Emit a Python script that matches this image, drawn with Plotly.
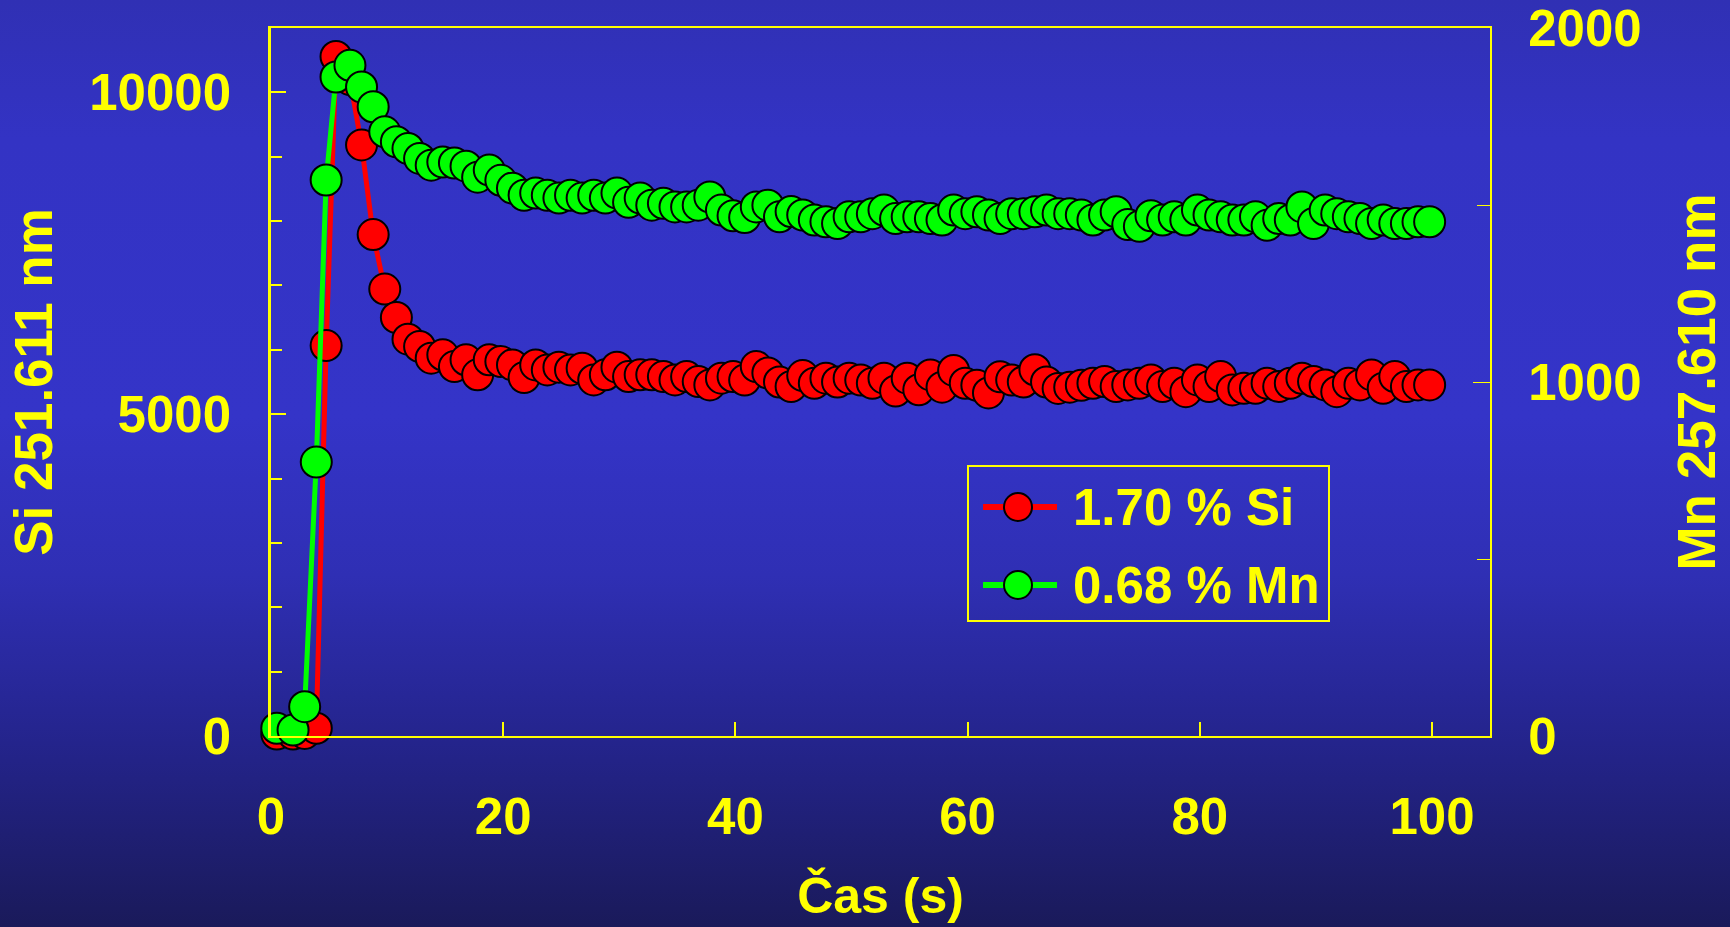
import base64
import plotly.graph_objects as go

# ---------------- data ----------------
time_s = [0.5, 1.9, 2.9, 3.9, 4.75, 5.6, 6.8, 7.8, 8.8, 9.8,
          10.8, 11.8, 12.8, 13.8, 14.8, 15.8, 16.8, 17.8, 18.8, 19.8,
          20.8, 21.8, 22.8, 23.8, 24.8, 25.8, 26.8, 27.8, 28.8, 29.8,
          30.8, 31.8, 32.8, 33.8, 34.8, 35.8, 36.8, 37.8, 38.8, 39.8,
          40.8, 41.8, 42.8, 43.8, 44.8, 45.8, 46.8, 47.8, 48.8, 49.8,
          50.8, 51.8, 52.8, 53.8, 54.8, 55.8, 56.8, 57.8, 58.8, 59.8,
          60.8, 61.8, 62.8, 63.8, 64.8, 65.8, 66.8, 67.8, 68.8, 69.8,
          70.8, 71.8, 72.8, 73.8, 74.8, 75.8, 76.8, 77.8, 78.8, 79.8,
          80.8, 81.8, 82.8, 83.8, 84.8, 85.8, 86.8, 87.8, 88.8, 89.8,
          90.8, 91.8, 92.8, 93.8, 94.8, 95.8, 96.8, 97.8, 98.8, 99.8]

si_intensity = [30, 30, 40, 120, 6066, 10557, 10200, 9184, 7790, 6943,
                6502, 6166, 6051, 5870, 5922, 5740, 5844, 5611, 5844, 5818,
                5766, 5569, 5766, 5688, 5730, 5688, 5714, 5533, 5611, 5730,
                5584, 5611, 5611, 5584, 5533, 5584, 5507, 5455, 5559, 5584,
                5530, 5740, 5640, 5500, 5430, 5600, 5480, 5560, 5500, 5560,
                5530, 5480, 5560, 5360, 5560, 5380, 5610, 5420, 5680, 5480,
                5450, 5330, 5580, 5530, 5500, 5690, 5500, 5400, 5420, 5450,
                5481, 5506, 5430, 5455, 5481, 5533, 5430, 5481, 5350, 5533,
                5430, 5584, 5377, 5403, 5403, 5481, 5429, 5481, 5558, 5506,
                5455, 5350, 5481, 5455, 5610, 5403, 5584, 5429, 5455, 5455]

mn_intensity = [22, 17, 83, 774, 1571, 1862, 1895, 1834, 1778, 1707,
                1679, 1660, 1632, 1613, 1622, 1619, 1610, 1579, 1599, 1570,
                1548, 1528, 1534, 1528, 1520, 1528, 1520, 1528, 1520, 1534,
                1508, 1520, 1500, 1505, 1495, 1495, 1500, 1523, 1486, 1470,
                1465, 1495, 1500, 1467, 1482, 1472, 1458, 1453, 1448, 1467,
                1467, 1476, 1486, 1462, 1467, 1467, 1462, 1458, 1486, 1476,
                1481, 1472, 1462, 1476, 1476, 1481, 1486, 1476, 1476, 1472,
                1458, 1472, 1481, 1445, 1440, 1470, 1458, 1467, 1458, 1486,
                1472, 1467, 1458, 1458, 1467, 1443, 1462, 1458, 1495, 1448,
                1486, 1476, 1467, 1462, 1448, 1458, 1448, 1448, 1453, 1453]

series_names = ["1.70 % Si", "0.68 % Mn"]
series_colors = ["#FF0000", "#00FF00"]
x_title = "Čas (s)"
y_title = "Si 251.611 nm"
y2_title = "Mn 257.610 nm"

# ---------------- layout geometry ----------------
W, H = 1730, 927
ML, MR, MT, MB = 271, 240, 28, 191
PW, PH = W - ML - MR, H - MT - MB
YEL = "#FFFF00"
FONT = "Liberation Sans, Arial, sans-serif"


def px_x(p):
    return (p - ML) / PW


def px_y(p):
    return (H - MB - p) / PH


# gradient background as an SVG image
svg = (
    "<svg xmlns='http://www.w3.org/2000/svg' width='1730' height='927' preserveAspectRatio='none'>"
    "<defs><linearGradient id='g' x1='0' y1='0' x2='0' y2='1'>"
    "<stop offset='0' stop-color='#3030b4'/>"
    "<stop offset='0.15' stop-color='#3333c4'/>"
    "<stop offset='0.45' stop-color='#3434c8'/>"
    "<stop offset='0.62' stop-color='#2f2fb4'/>"
    "<stop offset='0.80' stop-color='#24248c'/>"
    "<stop offset='1' stop-color='#1a1a5a'/>"
    "</linearGradient></defs>"
    "<rect x='0' y='0' width='1730' height='927' fill='url(#g)'/></svg>"
)
bg_src = "data:image/svg+xml;base64," + base64.b64encode(svg.encode()).decode()

fig = go.Figure()
fig.add_trace(go.Scatter(
    x=time_s, y=si_intensity, name=series_names[0], mode="lines+markers",
    line=dict(color=series_colors[0], width=5),
    marker=dict(size=31, color=series_colors[0], line=dict(color="black", width=2)),
    cliponaxis=False, showlegend=False, yaxis="y"))
fig.add_trace(go.Scatter(
    x=time_s, y=mn_intensity, name=series_names[1], mode="lines+markers",
    line=dict(color=series_colors[1], width=5),
    marker=dict(size=31, color=series_colors[1], line=dict(color="black", width=2)),
    cliponaxis=False, showlegend=False, yaxis="y2"))

tickfont = dict(family=FONT, size=51, color=YEL, weight="bold")
titlefont = dict(family=FONT, size=53, color=YEL, weight="bold")

fig.update_layout(
    width=W, height=H,
    margin=dict(l=ML, r=MR, t=MT, b=MB, autoexpand=False),
    paper_bgcolor="#2a2aa0", plot_bgcolor="rgba(0,0,0,0)",
    showlegend=False,
    images=[dict(source=bg_src, xref="paper", yref="paper",
                 x=px_x(0), y=px_y(0), sizex=W / PW, sizey=H / PH,
                 xanchor="left", yanchor="top", sizing="stretch", layer="below")],
    xaxis=dict(range=[0, 105], tick0=0, dtick=20, showgrid=False, zeroline=False,
               showline=True, linecolor=YEL, linewidth=2, mirror=True,
               ticks="inside", ticklen=14, tickwidth=1.5, tickcolor=YEL,
               tickfont=tickfont, ticklabelstandoff=35,
               title=dict(text=x_title, font=dict(family=FONT, size=50, color=YEL, weight="bold"),
                          standoff=34)),
    yaxis=dict(range=[0, 11000], tick0=0, dtick=5000, tickformat="d",
               showgrid=False, zeroline=False,
               showline=True, linecolor=YEL, linewidth=2.5,
               ticks="inside", ticklen=15, tickwidth=1.5, tickcolor=YEL,
               minor=dict(dtick=1000, ticks="inside", ticklen=11, tickwidth=1.5,
                          tickcolor=YEL, showgrid=False),
               tickfont=tickfont, ticklabelstandoff=27,
               title=dict(text=y_title, font=titlefont, standoff=20)),
    yaxis2=dict(range=[0, 2000.5], tick0=0, dtick=1000, tickformat="d",
                overlaying="y", side="right",
                showgrid=False, zeroline=False,
                showline=True, linecolor=YEL, linewidth=2,
                ticks="inside", ticklen=17, tickwidth=1.2, tickcolor=YEL,
                minor=dict(dtick=500, ticks="inside", ticklen=13, tickwidth=1.2,
                           tickcolor=YEL, showgrid=False),
                tickfont=tickfont, ticklabelstandoff=26,
                title=dict(text=y2_title, font=titlefont, standoff=37)),
)

# ---------------- hand-drawn legend box ----------------
shapes = [dict(type="rect", xref="paper", yref="paper",
               x0=px_x(968), x1=px_x(1329), y0=px_y(621), y1=px_y(466),
               line=dict(color=YEL, width=2), fillcolor="rgba(0,0,0,0)", layer="above")]
annotations = []
row_y = [507, 585]
for name, col, ry in zip(series_names, series_colors, row_y):
    shapes.append(dict(type="line", xref="paper", yref="paper",
                       x0=px_x(983), x1=px_x(1057), y0=px_y(ry), y1=px_y(ry),
                       line=dict(color=col, width=6), layer="above"))
    shapes.append(dict(type="circle", xref="paper", yref="paper",
                       xsizemode="pixel", ysizemode="pixel",
                       xanchor=px_x(1018), yanchor=px_y(ry),
                       x0=-14, x1=14, y0=-14, y1=14,
                       fillcolor=col, line=dict(color="black", width=2), layer="above"))
    annotations.append(dict(xref="paper", yref="paper", x=px_x(1071), y=px_y(ry),
                            xanchor="left", yanchor="middle", showarrow=False,
                            text=name, font=dict(family=FONT, size=51, color=YEL, weight="bold")))
fig.update_layout(shapes=shapes, annotations=annotations)

fig.write_html("out.html")
